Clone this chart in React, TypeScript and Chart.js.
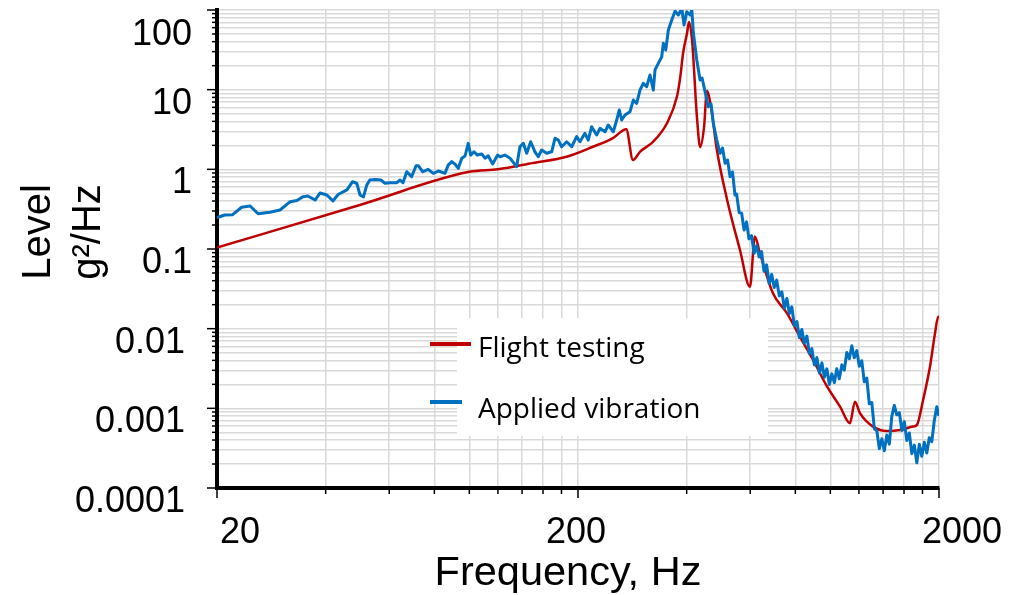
import React, { useEffect, useRef } from 'react';
import { Chart, registerables } from 'chart.js';

Chart.register(...registerables);

// ---- Data -------------------------------------------------------------
const seriesNames = ['Flight testing', 'Applied vibration'];

const flightFreq = [
  20, 50, 100, 120, 150, 186, 220, 250, 272, 284,
  297, 323, 353, 376, 384, 391, 401, 406, 414, 427,
  436, 447, 455, 467, 485, 518, 562, 599, 618, 638,
  693, 758, 824, 896, 980, 1064, 1133, 1170, 1208, 1313,
  1436, 1560, 1694, 1738, 1807, 1888, 1950, 1990, 2000,
];
const flightLevel = [
  0.104, 0.36, 0.93, 1.0, 1.2, 1.44, 1.92, 2.47, 3.18, 1.31,
  1.66, 2.22, 3.82, 8.2, 14.4, 28.9, 51.4, 70.7, 42, 4.58,
  1.9, 3.43, 9.6, 6.1, 1.75, 0.41, 0.097, 0.0336, 0.143, 0.089,
  0.028, 0.0157, 0.0079, 0.00404, 0.00187, 0.00105, 0.00065, 0.00121, 0.00087, 0.00059,
  0.00052, 0.000535, 0.00059, 0.00062, 0.00127, 0.00333, 0.0088, 0.0141, 0.0135,
];

const appliedFreq = [
  20, 21.0, 22.1, 23.4, 24.7, 26.0, 28.0, 29.9, 31.9, 33.3,
  34.6, 35.7, 37.4, 38.6, 40.3, 41.9, 43.3, 45.8, 47.5, 48.8,
  49.8, 50.9, 52.0, 53.0, 54.8, 56.9, 58.4, 60.3, 63.0, 64.3,
  65.5, 67.1, 69.2, 71.2, 72.2, 74.3, 76.9, 79.5, 82.1, 85.6,
  87.4, 89.4, 91.3, 93.2, 95.3, 97.3, 99.3, 100.9, 103.0, 105.2,
  108.2, 110.5, 112.8, 116.0, 119.8, 121.6, 125.5, 129.6, 135.2, 138.1,
  141.1, 144.2, 147.9, 152.0, 155.2, 158.6, 163.8, 169.1, 172.7, 176.4,
  180.2, 186.1, 192.1, 198.3, 202.5, 209.0, 213.5, 218.2, 225.3, 230.1,
  237.6, 242.6, 250.5, 256.0, 260.3, 264.3, 269.9, 278.6, 284.6, 290.8,
  297.0, 303.3, 310.0, 316.6, 323.3, 326.9, 333.8, 341.2, 344.7, 350.0,
  355.9, 363.7, 371.4, 379.3, 387.7, 393.4, 400.3, 408.8, 413.3, 417.5,
  426.6, 435.7, 441.3, 449.8, 459.3, 467.3, 474.2, 484.6, 495.0, 502.9,
  511.0, 519.2, 527.6, 535.8, 544.4,
  550, 559, 568, 577, 586, 595, 605, 615, 625, 635,
  645, 655, 666, 677, 688, 699, 710, 722, 734, 746,
  758, 770, 782, 795, 808, 821, 834, 847, 861, 875,
  889, 903, 918, 933, 948, 963, 978, 994, 1010, 1026,
  1042, 1059, 1076, 1093, 1111, 1129, 1147, 1165, 1184, 1203,
  1222, 1242, 1262, 1282, 1303, 1324, 1345, 1367, 1389, 1411,
  1434, 1457, 1480, 1504, 1528, 1553, 1578, 1603, 1629, 1655,
  1682, 1709, 1736, 1764, 1792, 1821, 1850, 1880, 1910, 1941,
  1972, 2000,
];
const appliedLevel = [
  0.247, 0.267, 0.27, 0.334, 0.347, 0.277, 0.289, 0.309, 0.393, 0.406,
  0.454, 0.463, 0.412, 0.505, 0.476, 0.401, 0.483, 0.551, 0.7, 0.664,
  0.476, 0.45, 0.636, 0.735, 0.745, 0.735, 0.668, 0.679, 0.679, 0.735,
  0.679, 0.933, 0.809, 1.11, 1.11, 0.933, 1.0, 0.891, 0.953, 0.891,
  1.13, 1.25, 1.16, 1.03, 1.38, 1.47, 2.12, 1.51, 1.66, 1.51,
  1.56, 1.38, 1.48, 1.17, 1.51, 1.44, 1.51, 1.38, 1.08, 1.92,
  2.12, 1.59, 2.22, 1.66, 1.44, 1.75, 1.59, 1.66, 2.45, 2.33,
  1.92, 2.22, 1.92, 2.57, 2.22, 2.83, 2.33, 3.43, 2.7, 3.27,
  2.96, 3.6, 2.96, 4.16, 5.56, 4.16, 4.81, 5.28, 7.41, 6.74,
  9.9, 12.0, 10.9, 15.3, 9.9, 17.7, 21.4, 25.9, 38.2, 31.5,
  56.1, 74.9, 97, 86.5, 105, 64.9, 95, 86.5, 102, 51.4,
  23.6, 13.2, 14.0, 9.44, 6.11, 6.61, 3.78, 2.33, 1.59, 1.85,
  1.19, 1.31, 0.809, 0.927, 0.476,
  0.49, 0.286, 0.281, 0.173, 0.219, 0.134, 0.147, 0.0881, 0.11, 0.0796,
  0.0927, 0.0527, 0.0634, 0.0369, 0.048, 0.0329, 0.0407, 0.0258, 0.0291, 0.018,
  0.0239, 0.0155, 0.0188, 0.0109, 0.0123, 0.00767, 0.00977, 0.00655, 0.00807, 0.00485,
  0.00561, 0.00351, 0.00433, 0.00277, 0.00372, 0.00246, 0.00313, 0.00199, 0.00271, 0.0021,
  0.00314, 0.00235, 0.00351, 0.00302, 0.00501, 0.00419, 0.00611, 0.00431, 0.0053, 0.00338,
  0.00396, 0.00215, 0.0024, 0.00114, 0.00118, 0.000555, 0.000526, 0.000312, 0.000415, 0.000294,
  0.000461, 0.000355, 0.000791, 0.00109, 0.00083, 0.000883, 0.000527, 0.000682, 0.000394, 0.000491,
  0.00027, 0.000345, 0.000207, 0.000353, 0.00025, 0.000375, 0.000275, 0.000427, 0.000382, 0.000703,
  0.00105, 0.000802,
];

// Axis ticks / grid
const xMin = 20;
const xMax = 2000;
const yMin = 0.0001;
const yMax = 100;
const xGridValues = [20, 40, 60, 80, 100, 120, 140, 160, 180, 200, 400, 600, 800, 1000, 1200, 1400, 1600, 1800, 2000];
const xTickValues = [20, 200, 2000];
const xTickLabels = ['20', '200', '2000'];
const yTickValues = [100, 10, 1, 0.1, 0.01, 0.001, 0.0001];
const yTickLabels = ['100', '10', '1', '0.1', '0.01', '0.001', '0.0001'];
const yDecades = [0.0001, 0.001, 0.01, 0.1, 1, 10];
const yMultipliers = [1, 2, 3, 4, 5, 6, 7, 8, 9];
const xTitle = 'Frequency, Hz';
const yTitleLines = ['Level', 'g²/Hz'];

const yGridValues: number[] = [];
yDecades.forEach((d) => yMultipliers.forEach((m) => yGridValues.push(Number((d * m).toPrecision(6)))));
yGridValues.push(yMax);

const RED = '#C00000';
const BLUE = '#0070C0';
const SANS = '"Liberation Sans", Arial, sans-serif';
const LEGEND_FONT = '"Open Sans", "Noto Sans", sans-serif';

const isMajor = (v: number, list: number[]) =>
  list.some((t) => Math.abs(Math.log10(t) - Math.log10(v)) < 1e-6);

const decorPlugin = {
  id: 'decor',
  afterDraw(chart: any) {
    const ctx = chart.ctx as CanvasRenderingContext2D;
    const { left, right, top, bottom } = chart.chartArea;
    const xs = chart.scales.x;
    const ys = chart.scales.y;
    ctx.save();

    // tick marks
    ctx.strokeStyle = '#000';
    ctx.lineWidth = 1.5;
    yGridValues.forEach((v) => {
      const y = ys.getPixelForValue(v);
      const len = isMajor(v, yTickValues) ? 10 : 5;
      ctx.beginPath();
      ctx.moveTo(left - len, y);
      ctx.lineTo(left, y);
      ctx.stroke();
    });
    xGridValues.forEach((v) => {
      const x = xs.getPixelForValue(v);
      const len = isMajor(v, xTickValues) ? 10 : 6;
      ctx.beginPath();
      ctx.moveTo(x, bottom);
      ctx.lineTo(x, bottom + len);
      ctx.stroke();
    });

    // y tick labels
    ctx.fillStyle = '#000';
    ctx.font = `36px ${SANS}`;
    ctx.textAlign = 'right';
    ctx.textBaseline = 'alphabetic';
    const yShift = [0, 0, 0, 0, -7, -7, -7];
    yTickValues.forEach((v, i) => {
      const y = ys.getPixelForValue(v);
      ctx.fillText(yTickLabels[i], left - 25 + yShift[i], Math.max(y + 24, top + 35));
    });

    // x tick labels
    const xAlign: CanvasTextAlign[] = ['left', 'center', 'left'];
    const xShift = [3, -2, -17];
    xTickValues.forEach((v, i) => {
      const x = xs.getPixelForValue(v);
      ctx.textAlign = xAlign[i];
      ctx.fillText(xTickLabels[i], x + xShift[i], bottom + 55);
    });

    // x title
    ctx.font = `41.5px ${SANS}`;
    ctx.textAlign = 'center';
    ctx.fillText(xTitle, (left + right) / 2 - 10, bottom + 97);

    // y title (two rotated lines)
    ctx.font = `40px ${SANS}`;
    const cy = (top + bottom) / 2 - 17;
    [left - 167, left - 117].forEach((bx, i) => {
      ctx.save();
      ctx.translate(bx, cy);
      ctx.rotate(-Math.PI / 2);
      ctx.textAlign = 'center';
      ctx.fillText(yTitleLines[i], 0, 0);
      ctx.restore();
    });

    // legend
    ctx.fillStyle = '#fff';
    ctx.fillRect(457, 318, 311, 118);
    ctx.lineWidth = 4;
    ctx.strokeStyle = RED;
    ctx.beginPath();
    ctx.moveTo(430, 344);
    ctx.lineTo(471, 344);
    ctx.stroke();
    ctx.strokeStyle = BLUE;
    ctx.beginPath();
    ctx.moveTo(430, 402);
    ctx.lineTo(462, 402);
    ctx.stroke();
    ctx.fillStyle = '#000';
    ctx.font = `28px ${LEGEND_FONT}`;
    ctx.textAlign = 'left';
    ctx.fillText(seriesNames[0], 478, 357);
    ctx.fillText(seriesNames[1], 478, 418);

    ctx.restore();
  },
};

export default function App() {
  const ref = useRef<HTMLCanvasElement | null>(null);

  useEffect(() => {
    if (!ref.current) return;
    const gridCommon = { color: '#d9d9d9', lineWidth: 1.5, drawTicks: false };
    const borderCommon = { display: true, color: '#000', width: 4 };
    const chart = new Chart(ref.current, {
      type: 'scatter',
      data: {
        datasets: [
          {
            label: seriesNames[1],
            data: appliedFreq.map((f, i) => ({ x: f, y: appliedLevel[i] })),
            showLine: true,
            borderColor: BLUE,
            backgroundColor: BLUE,
            borderWidth: 3,
            pointRadius: 0,
            tension: 0,
            borderJoinStyle: 'round',
            order: 0,
          },
          {
            label: seriesNames[0],
            data: flightFreq.map((f, i) => ({ x: f, y: flightLevel[i] })),
            showLine: true,
            borderColor: RED,
            backgroundColor: RED,
            borderWidth: 2.5,
            pointRadius: 0,
            cubicInterpolationMode: 'monotone',
            borderJoinStyle: 'round',
            order: 1,
          },
        ],
      },
      options: {
        responsive: false,
        animation: false,
        devicePixelRatio: 1,
        layout: { padding: { left: 217, right: 82, top: 10, bottom: 107 } },
        plugins: {
          legend: { display: false },
          tooltip: { enabled: false },
        },
        scales: {
          x: {
            type: 'logarithmic',
            min: xMin,
            max: xMax,
            afterBuildTicks: (s: any) => {
              s.ticks = xGridValues.map((v) => ({ value: v }));
            },
            ticks: { display: false },
            grid: gridCommon,
            border: borderCommon,
          },
          y: {
            type: 'logarithmic',
            min: yMin,
            max: yMax,
            afterBuildTicks: (s: any) => {
              s.ticks = yGridValues.map((v) => ({ value: v }));
            },
            ticks: { display: false },
            grid: gridCommon,
            border: borderCommon,
          },
        },
      } as any,
      plugins: [decorPlugin],
    });
    return () => chart.destroy();
  }, []);

  return (
    <canvas
      ref={ref}
      width={1021}
      height={595}
      style={{ display: 'block', position: 'absolute', left: 0, top: 0 }}
    />
  );
}
